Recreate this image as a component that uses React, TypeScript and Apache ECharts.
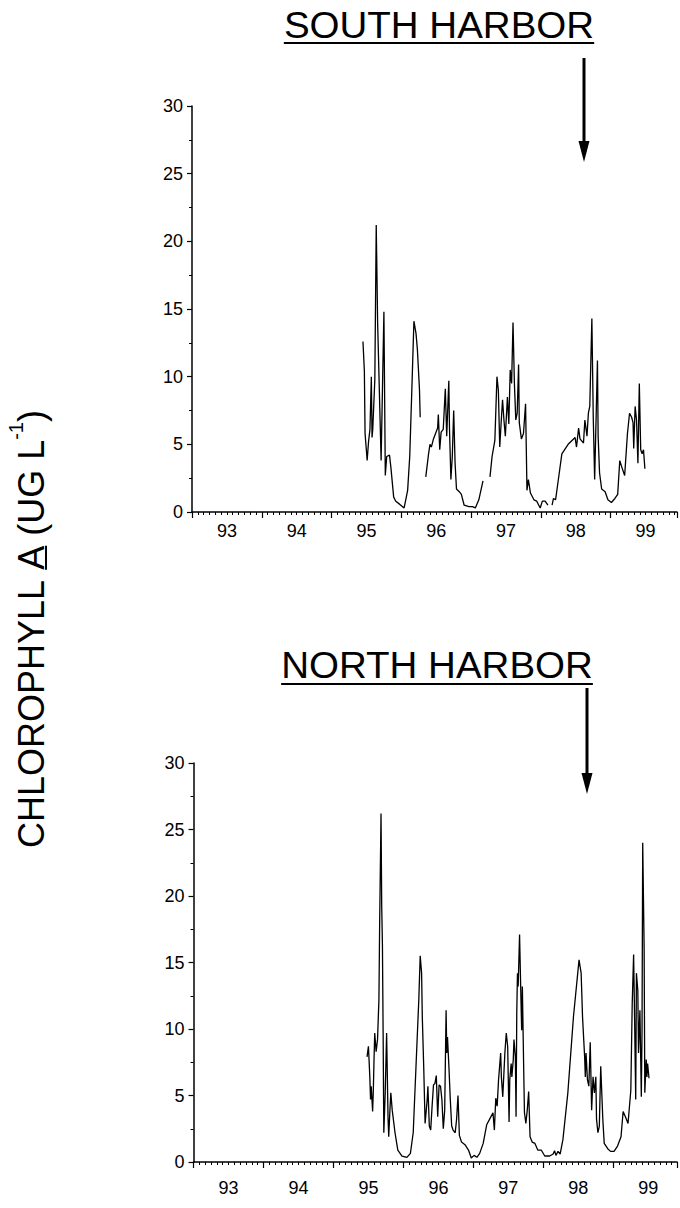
import React, { useEffect, useRef } from "react";
import * as echarts from "echarts";

const FONT = '"Liberation Sans", Arial, Helvetica, sans-serif';

// Year labels shown centred in each year band
const yearLabels = ["93", "94", "95", "96", "97", "98", "99"];

// SOUTH HARBOR (null = gap in the record)
const southYears = [
  95.45, 95.47, 95.48, 95.51, 95.53, 95.55, 95.57, 95.58, 95.59, 95.62,
  95.64, 95.65, 95.66, 95.71, 95.75, 95.77, 95.79, 95.83, 95.85, 95.89,
  95.92, 95.97, 96.04, 96.09, 96.12, 96.15, 96.18, 96.21, 96.23, 96.26, 96.27,
  96.31,
  96.35, 96.39, 96.41, 96.43, 96.46, 96.49, 96.52, 96.53, 96.55, 96.57,
  96.6, 96.63, 96.65, 96.68, 96.69, 96.71, 96.73, 96.75, 96.77, 96.79,
  96.83, 96.86, 96.9, 96.97, 97.02, 97.06, 97.11, 97.17,
  97.22,
  97.27, 97.3, 97.34, 97.37, 97.39, 97.41, 97.43, 97.45, 97.47, 97.49,
  97.52, 97.54, 97.56, 97.58, 97.6, 97.62, 97.64, 97.66, 97.68, 97.69,
  97.72, 97.75, 97.78, 97.79, 97.8, 97.82, 97.85, 97.9, 97.94, 97.99,
  98.02, 98.06, 98.1,
  98.13,
  98.16, 98.18, 98.21, 98.25, 98.3, 98.39, 98.49, 98.51, 98.54, 98.56,
  98.61, 98.63, 98.66, 98.68, 98.7, 98.73, 98.75, 98.77, 98.81, 98.82,
  98.84, 98.87, 98.92, 98.96, 99.01, 99.06, 99.1, 99.13, 99.16, 99.2,
  99.24, 99.27, 99.3, 99.32, 99.33, 99.35, 99.37, 99.39, 99.41, 99.43,
  99.45, 99.47, 99.49,
];
const southChl = [
  12.6, 10.4, 5.8, 3.8, 5.2, 6.1, 10.0, 5.5, 6.1, 9.8,
  21.2, 17.7, 14.0, 3.8, 14.8, 2.7, 4.1, 4.2, 3.3, 1.1,
  0.8, 0.6, 0.3, 1.6, 4.1, 9.0, 14.1, 13.2, 12.0, 9.0, 7.0,
  null,
  2.6, 4.3, 5.0, 4.8, 5.4, 5.8, 6.2, 7.2, 4.6, 5.9,
  6.1, 9.1, 5.6, 9.7, 6.1, 2.4, 4.1, 7.5, 3.6, 1.7,
  1.5, 1.3, 0.5, 0.4, 0.4, 0.3, 0.9, 2.3,
  null,
  2.6, 4.1, 5.3, 10.0, 9.0, 4.8, 6.6, 8.3, 6.8, 5.6,
  8.5, 6.5, 10.5, 9.5, 14.0, 9.5, 6.8, 7.3, 10.9, 6.6,
  5.4, 5.8, 8.0, 4.8, 1.6, 2.4, 1.4, 0.9, 0.8, 0.3,
  0.8, 0.8, 0.5,
  null,
  0.5, 1.0, 0.9, 2.4, 4.3, 5.0, 5.5, 4.8, 6.2, 5.4,
  5.1, 6.8, 5.6, 7.3, 7.8, 14.3, 7.0, 2.4, 11.2, 5.6,
  2.9, 1.7, 1.5, 0.9, 0.7, 1.0, 1.3, 3.8, 3.3, 2.7,
  5.8, 7.3, 7.0, 6.6, 4.7, 7.8, 6.8, 3.6, 9.5, 4.6,
  4.3, 4.6, 3.2,
];

// NORTH HARBOR
const northYears = [
  95.48, 95.5, 95.52, 95.53, 95.54, 95.56, 95.57, 95.58, 95.59, 95.61,
  95.63, 95.65, 95.66, 95.68, 95.69, 95.7, 95.71, 95.72, 95.74, 95.76,
  95.78, 95.79, 95.81, 95.82, 95.84, 95.88, 95.92, 95.98, 96.05, 96.1,
  96.14, 96.18, 96.22, 96.24, 96.26, 96.27, 96.29, 96.31, 96.34, 96.35,
  96.37, 96.39, 96.41, 96.43, 96.45, 96.47, 96.49, 96.51, 96.53, 96.55,
  96.57, 96.59, 96.61, 96.62, 96.63, 96.65, 96.67, 96.69, 96.71, 96.74,
  96.76, 96.78, 96.8, 96.83, 96.88, 96.93, 96.97, 97.01, 97.05, 97.09,
  97.14, 97.19, 97.24, 97.28, 97.3, 97.32, 97.34, 97.36, 97.39, 97.4,
  97.42, 97.45, 97.47, 97.49, 97.51, 97.52, 97.54, 97.55, 97.57, 97.58,
  97.6, 97.61, 97.62, 97.63, 97.64, 97.66, 97.68, 97.69, 97.7, 97.72,
  97.73, 97.75, 97.77, 97.79, 97.81, 97.84, 97.88, 97.92, 97.97, 98.02,
  98.09, 98.14, 98.16, 98.18, 98.21, 98.24, 98.28, 98.35, 98.43, 98.51,
  98.54, 98.56, 98.59, 98.6, 98.61, 98.63, 98.65, 98.67, 98.69, 98.71,
  98.73, 98.75, 98.76, 98.78, 98.8, 98.82, 98.85, 98.87, 98.92, 98.96,
  99.01, 99.06, 99.11, 99.14, 99.18, 99.21, 99.25, 99.27, 99.29, 99.3,
  99.32, 99.33, 99.35, 99.36, 99.38, 99.4, 99.41, 99.42, 99.44, 99.45,
  99.47, 99.48, 99.49, 99.51,
];
const northChl = [
  7.9, 8.7, 6.4, 4.7, 5.7, 3.8, 5.4, 7.7, 9.7, 8.3,
  9.2, 12.2, 17.7, 26.2, 19.2, 16.4, 9.7, 2.2, 5.2, 9.7,
  3.4, 1.9, 4.2, 5.2, 3.9, 2.2, 0.9, 0.45, 0.35, 0.65,
  2.2, 7.2, 12.2, 15.5, 14.2, 10.9, 7.2, 2.9, 4.7, 5.7,
  2.7, 2.4, 4.2, 5.8, 5.9, 6.5, 3.4, 5.8, 5.7, 4.7,
  2.5, 3.9, 11.4, 8.2, 9.4, 7.2, 4.7, 2.7, 2.4, 2.2,
  3.2, 5.0, 2.0, 1.5, 1.3, 0.9, 0.3, 0.5, 0.35, 0.65,
  1.4, 2.8, 3.3, 3.7, 2.4, 4.8, 4.2, 6.2, 8.2, 6.4,
  4.9, 8.2, 9.7, 8.7, 3.0, 6.2, 7.4, 6.4, 7.7, 9.2,
  7.9, 3.4, 11.2, 14.2, 13.2, 17.1, 12.2, 9.9, 13.2, 6.7,
  3.7, 2.9, 3.9, 5.3, 1.9, 1.5, 1.4, 0.9, 0.9, 0.45,
  0.45, 0.6, 0.85, 0.5, 0.8, 0.6, 1.7, 5.2, 10.9, 15.2,
  14.2, 10.9, 7.9, 6.4, 8.2, 6.2, 5.7, 9.0, 3.9, 6.4,
  5.2, 6.4, 3.2, 2.2, 2.7, 7.2, 3.2, 1.4, 1.0, 0.8,
  0.8, 1.2, 1.9, 3.8, 3.3, 2.9, 5.4, 11.9, 15.6, 12.2,
  4.7, 14.2, 12.9, 8.2, 11.4, 4.9, 9.7, 24.0, 16.2, 5.2,
  7.7, 6.4, 7.4, 6.3,
];

function measure(text: string, font: string): number {
  const ctx = document.createElement("canvas").getContext("2d");
  if (!ctx) return text.length * 10;
  ctx.font = font;
  return ctx.measureText(text).width;
}

function yearFormatter(v: number): string {
  const r = Math.round(v);
  if (Math.abs(v - r) > 1e-6) return "";
  const i = r - 93;
  return i >= 0 && i < yearLabels.length ? yearLabels[i] : "";
}

function makeAxes(grid: number, max: number, labelMargin: number) {
  const main = {
    type: "value",
    gridIndex: grid,
    position: "bottom",
    min: 93,
    max: max,
    interval: 1,
    axisLine: { show: true, onZero: false, lineStyle: { color: "#000", width: 1.5 } },
    axisTick: { show: true, inside: false, length: 6, lineStyle: { color: "#000", width: 1.2 } },
    minorTick: { show: true, splitNumber: 12, length: 3, lineStyle: { color: "#000", width: 1 } },
    axisLabel: { show: false },
    splitLine: { show: false },
  };
  const labels = {
    type: "value",
    gridIndex: grid,
    position: "bottom",
    min: 92.5,
    max: max - 0.5,
    interval: 0.5,
    axisLine: { show: false },
    axisTick: { show: false },
    splitLine: { show: false },
    axisLabel: {
      show: true,
      margin: labelMargin,
      color: "#000",
      fontSize: 18,
      fontFamily: FONT,
      formatter: yearFormatter,
    },
  };
  return [main, labels];
}

function makeYAxis(grid: number) {
  return {
    type: "value",
    gridIndex: grid,
    min: 0,
    max: 30,
    interval: 5,
    axisLine: { show: true, lineStyle: { color: "#000", width: 1.5 } },
    axisTick: { show: true, length: 5, lineStyle: { color: "#000", width: 1.2 } },
    minorTick: { show: true, splitNumber: 2, length: 3, lineStyle: { color: "#000", width: 1 } },
    splitLine: { show: false },
    axisLabel: { color: "#000", fontSize: 18, fontFamily: FONT, margin: 9 },
  };
}

function titleElements(label: string, cx: number, cy: number, underlineY: number) {
  const font = `36px ${FONT}`;
  const sx = 1.07;
  const w = measure(label, font) * sx;
  return [
    {
      type: "text",
      x: cx,
      y: cy,
      scaleX: sx,
      style: { text: label, font, fill: "#000", align: "center", verticalAlign: "middle" },
    },
    {
      type: "line",
      shape: { x1: cx - w / 2, y1: underlineY, x2: cx + w / 2, y2: underlineY },
      style: { stroke: "#000", lineWidth: 2 },
    },
  ];
}

function arrowElements(x: number, y0: number, tip: number) {
  return [
    {
      type: "line",
      shape: { x1: x, y1: y0, x2: x, y2: tip - 18 },
      style: { stroke: "#000", lineWidth: 3 },
    },
    {
      type: "polygon",
      shape: { points: [[x - 5.5, tip - 21], [x + 5.5, tip - 21], [x, tip]] },
      style: { fill: "#000" },
    },
  ];
}

function yLabelGroup(cx: number, cy: number) {
  const mainFont = `36px ${FONT}`;
  const supFont = `20px ${FONT}`;
  const p1 = "CHLOROPHYLL ";
  const pA = "A";
  const p2 = " (UG L";
  const pS = "-1";
  const p3 = ")";
  const w1 = measure(p1, mainFont);
  const wA = measure(pA, mainFont);
  const w2 = measure(p2, mainFont);
  const wS = measure(pS, supFont);
  const w3 = measure(p3, mainFont);
  const total = w1 + wA + w2 + wS + w3;
  let x = -total / 2;
  const txt = (t: string, px: number, py: number, f: string) => ({
    type: "text",
    x: px,
    y: py,
    style: { text: t, font: f, fill: "#000", align: "left", verticalAlign: "middle" },
  });
  const children: any[] = [];
  children.push(txt(p1, x, 0, mainFont));
  x += w1;
  children.push(txt(pA, x, 0, mainFont));
  children.push({
    type: "line",
    shape: { x1: x, y1: 15, x2: x + wA, y2: 15 },
    style: { stroke: "#000", lineWidth: 2 },
  });
  x += wA;
  children.push(txt(p2, x, 0, mainFont));
  x += w2;
  children.push(txt(pS, x, -15, supFont));
  x += wS;
  children.push(txt(p3, x, 0, mainFont));
  return { type: "group", x: cx, y: cy, rotation: Math.PI / 2, children };
}

export default function App() {
  const ref = useRef<HTMLDivElement>(null);

  useEffect(() => {
    document.body.style.margin = "0";
    if (!ref.current) return;
    const chart = echarts.init(ref.current, undefined, { renderer: "svg" });

    const southData = southYears.map((x, i) => [x, southChl[i] === null ? null : southChl[i]]);
    const northData = northYears.map((x, i) => [x, northChl[i]]);

    const topX = makeAxes(0, 99.95, 10);
    const botX = makeAxes(1, 99.91, 17);

    const option: any = {
      animation: false,
      backgroundColor: "#fff",
      grid: [
        { left: 192, top: 106, width: 488, height: 406, containLabel: false },
        { left: 193.5, top: 763, width: 486.5, height: 399, containLabel: false },
      ],
      xAxis: [...topX, ...botX],
      yAxis: [makeYAxis(0), makeYAxis(1)],
      series: [
        {
          type: "line",
          xAxisIndex: 0,
          yAxisIndex: 0,
          data: southData,
          symbol: "none",
          connectNulls: false,
          silent: true,
          lineStyle: { color: "#000", width: 1.3 },
        },
        {
          type: "line",
          xAxisIndex: 2,
          yAxisIndex: 1,
          data: northData,
          symbol: "none",
          silent: true,
          lineStyle: { color: "#000", width: 1.3 },
        },
      ],
      graphic: [
        ...titleElements("SOUTH HARBOR", 439, 25, 43),
        ...titleElements("NORTH HARBOR", 437, 665, 684),
        ...arrowElements(584, 58, 162),
        ...arrowElements(587, 688, 794),
        yLabelGroup(31, 629),
      ],
    };
    chart.setOption(option);
    return () => chart.dispose();
  }, []);

  return <div ref={ref} style={{ width: 680, height: 1208 }} />;
}
